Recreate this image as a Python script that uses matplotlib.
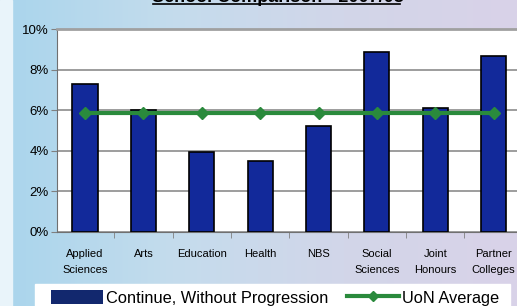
import numpy as np
import matplotlib.pyplot as plt
from matplotlib.colors import LinearSegmentedColormap
from matplotlib.lines import Line2D
from matplotlib.patches import Patch, Rectangle

categories = ['Applied\nSciences', 'Arts', 'Education', 'Health', 'NBS',
              'Social\nSciences', 'Joint\nHonours', 'Partner\nColleges']
continue_no_prog = [7.3, 6.0, 3.95, 3.5, 5.2, 8.85, 6.1, 8.65]
uon_average = [5.85] * 8
yticks = [0, 2, 4, 6, 8, 10]

plt.rcParams['font.family'] = ['Liberation Sans', 'DejaVu Sans']

fig = plt.figure(figsize=(5.17, 3.06), dpi=100)

# background gradient (light blue -> lavender)
bg = fig.add_axes([0, 0, 1, 1], zorder=-10)
cmap = LinearSegmentedColormap.from_list('bg', ['#a9d5ec', '#c4dced', '#d2d6e9', '#d9d2e8'])
grad = np.linspace(0, 1, 256).reshape(1, -1)
bg.imshow(grad, aspect='auto', cmap=cmap, extent=[0, 1, 0, 1])
bg.add_patch(Rectangle((0, 0), 12 / 517, 1, color='#e9f4fa'))
bg.set_xlim(0, 1)
bg.set_ylim(0, 1)
bg.axis('off')

ax = fig.add_axes([57 / 517, 74 / 306, 467 / 517, 203 / 306])
x = np.arange(len(categories))
ax.bar(x, continue_no_prog, width=0.43, color='#12299a', edgecolor='black',
       linewidth=1.2, zorder=3)
ax.plot(x, uon_average, color='#2a8a3c', linewidth=3, marker='D', markersize=6,
        zorder=4)

ax.set_xlim(-0.48, 7.52)
ax.set_ylim(0, 10)
ax.set_yticks(yticks)
ax.set_yticklabels([f'{t}%' for t in yticks], fontsize=9.5)
ax.set_xticks(x)
ax.set_xticklabels(categories, fontsize=8, linespacing=1.75)
ax.set_xticks(x[:-1] + 0.5, minor=True)
ax.tick_params(axis='x', which='major', length=0, pad=12)
ax.tick_params(axis='x', which='minor', length=4, color='#808080')
ax.tick_params(axis='y', length=4, color='#808080', pad=2)
ax.grid(axis='y', color='#8c8c8c', linewidth=1.2, zorder=0)
ax.set_facecolor('white')
for s in ['left', 'bottom']:
    ax.spines[s].set_color('#707070')
ax.spines['top'].set_color('#a0a0a0')
ax.spines['top'].set_linewidth(2)
ax.spines['right'].set_visible(False)

# title (cut off at top)
fig.text(0.537, 1.0 + 2.5 / 306, 'School Comparison - 2007/08', ha='center', va='center',
         fontsize=13, fontweight='bold')
fig.add_artist(Line2D([153 / 517, 400 / 517], [1 - 4 / 306, 1 - 4 / 306],
                      color='black', linewidth=1.2))

# legend
fig.add_artist(Rectangle((35 / 517, 0), 475 / 517, 22 / 306, color='white',
                         transform=fig.transFigure, zorder=1))
handles = [Patch(facecolor='#12286e', edgecolor='none'),
           Line2D([], [], color='#2a8a3c', linewidth=3, marker='D', markersize=5)]
fig.legend(handles, ['Continue, Without Progression', 'UoN Average'],
           loc='lower left', bbox_to_anchor=(44 / 517, -0.02), ncol=2,
           frameon=False, fontsize=11.8, handlelength=3.2, handleheight=1.0,
           handletextpad=0.2, columnspacing=1.1, borderaxespad=0)

fig.savefig('out.png', dpi=100)
